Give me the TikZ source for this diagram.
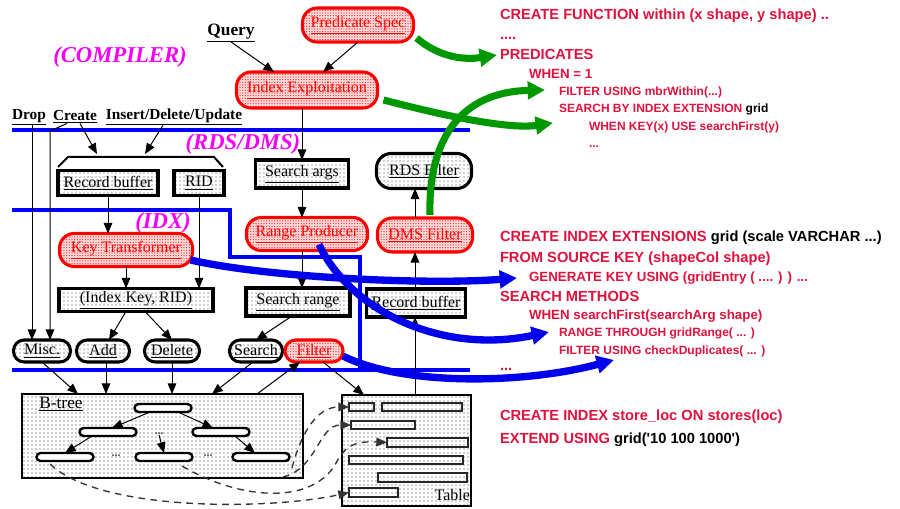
\documentclass[tikz,border=0pt]{standalone}
\usepackage{fontspec}
\setmainfont{Liberation Serif}
\newfontfamily\sqlfont{Liberation Sans}
\usetikzlibrary{arrows.meta,patterns,calc}
\pgfdeclarepatternformonly{bigdots}{\pgfpoint{-1pt}{-1pt}}{\pgfpoint{1pt}{1pt}}{\pgfpoint{3pt}{3pt}}{%
  \pgfpathcircle{\pgfpointorigin}{0.5pt}\pgfusepath{fill}}
\pgfdeclarepatternformonly{densedots}{\pgfpoint{-1pt}{-1pt}}{\pgfpoint{1pt}{1pt}}{\pgfpoint{2pt}{2pt}}{%
  \pgfpathcircle{\pgfpointorigin}{0.5pt}\pgfusepath{fill}}
\definecolor{sqlred}{RGB}{222,18,60}
\definecolor{magL}{RGB}{245,0,245}
\definecolor{sepblue}{RGB}{0,0,250}
\definecolor{bigblue}{RGB}{0,0,235}
\definecolor{biggreen}{RGB}{0,152,0}
\definecolor{nred}{RGB}{255,0,0}
\tikzset{
  every node/.style={inner sep=0pt, outer sep=0pt},
  arr/.style={draw=black, line width=0.75pt, -{Triangle[length=8pt,width=6.5pt]}},
  nfont/.style={font=\fontsize{12}{14}\selectfont},
  redbox/.style={nfont, draw=nred, line width=2.3pt, rounded corners=11pt, preaction={fill=red!14}, pattern=densedots, pattern color=red!85, text=nred},
  blkround/.style={nfont, draw=black, line width=2.3pt, rounded corners=8pt, preaction={fill=white}, pattern=bigdots, pattern color=black!75},
  blkbox/.style={nfont, draw=black, line width=2.3pt, preaction={fill=white}, pattern=bigdots, pattern color=black!75},
  area/.style={draw=black, line width=0.9pt, preaction={fill=white}, pattern=bigdots, pattern color=black!80},
  leaf/.style={draw=black, line width=1.8pt, fill=white, rounded corners=3pt, minimum width=42.75pt, minimum height=6pt},
  rowbox/.style={draw=black!85, line width=1pt, preaction={fill=white}, pattern=bigdots, pattern color=black!70},
  dotsty/.style={font=\fontsize{9}{10}\selectfont\bfseries, text=black!65},
  lbl/.style={font=\fontsize{11.5}{13}\selectfont\bfseries},
  mag/.style={text=magL, font=\fontsize{17}{19}\selectfont\bfseries\itshape},
  sep/.style={draw=sepblue, line width=2.3pt},
  garr/.style={draw=biggreen, line width=5.3pt, -{Triangle[length=13pt,width=13pt]}},
  barr/.style={draw=bigblue, line width=5.5pt, -{Triangle[length=13pt,width=13pt]}},
  dsh/.style={draw=black!80, line width=1pt, dash pattern=on 5pt off 4pt},
  dsharr/.style={dsh, -{Triangle[length=8pt,width=6.5pt]}},
  sqlL/.style={anchor=base west, text=sqlred, font=\sqlfont\bfseries\fontsize{11}{13}\selectfont},
  sqlM/.style={anchor=base west, text=sqlred, font=\sqlfont\bfseries\fontsize{10}{12}\selectfont},
  sqlS/.style={anchor=base west, text=sqlred, font=\sqlfont\bfseries\fontsize{9}{11}\selectfont},
}
\begin{document}
\begin{tikzpicture}[x=0.75pt,y=-0.75pt]
\useasboundingbox (0,0) rectangle (900,509);

% separators
\draw[sep] (12,130) -- (470,130);
\draw[sep] (12,210) -- (230,210) -- (230,257) -- (360,257) -- (360,370);
\draw[sep] (12,370) -- (470,370);

% labels
\node[font=\fontsize{13}{15}\selectfont\bfseries] (query) at (231,33) {\underline{Query}};
\node[mag] (compiler) at (120,57) {(COMPILER)};
\node[lbl] (drop) at (29,117) {\underline{Drop}};
\node[lbl] (create) at (75,117) {\underline{Create}};
\node[lbl] (ins) at (174,117) {\underline{Insert/Delete/Update}};
\node[mag] (rdsdms) at (243,144) {(RDS/DMS)};
\node[mag] (idxlab) at (163,223) {(IDX)};

% main nodes
\node[redbox, minimum width=83.25pt, minimum height=25.5pt] (pred) at (358,25) {\underline{Predicate Spec}};
\node[redbox, minimum width=105.75pt, minimum height=27pt] (idx) at (307,90) {\underline{Index Exploitation}};
\node[blkbox, minimum width=75pt, minimum height=18.75pt] (recbuf) at (108,183) {\underline{Record buffer}};
\node[blkbox, minimum width=37.5pt, minimum height=18.75pt] (rid) at (199,183) {\underline{RID}};
\node[blkbox, minimum width=69.75pt, minimum height=21pt] (sargs) at (302,174) {\underline{Search args}};
\node[blkround, rounded corners=11pt, minimum width=71.25pt, minimum height=26.25pt] (rdsf) at (424,171) {\underline{RDS Filter}};
\node[redbox, minimum width=99.75pt, minimum height=24.75pt] (keyt) at (126,250) {\underline{Key Transformer}};
\node[redbox, minimum width=90.75pt, minimum height=24.75pt] (rangep) at (307,234) {\underline{Range Producer}};
\node[redbox, minimum width=71.25pt, minimum height=25.5pt] (dmsf) at (425,235) {\underline{DMS Filter}};
\node[blkbox, minimum width=115.5pt, minimum height=17.25pt] (ikr) at (136,300) {\underline{(Index Key, RID)}};
\node[blkbox, minimum width=78pt, minimum height=21pt] (srange) at (298,302) {\underline{Search range}};
\node[blkbox, minimum width=74.25pt, minimum height=21pt] (recbuf2) at (416,303) {\underline{Record buffer}};
\node[blkround, minimum width=42.75pt, minimum height=16.5pt] (misc) at (42,351) {\underline{Misc.}};
\node[blkround, minimum width=39.75pt, minimum height=16.5pt] (add) at (103,351) {\underline{Add}};
\node[blkround, minimum width=41.25pt, minimum height=16.5pt] (del) at (172,351) {\underline{Delete}};
\node[blkround, minimum width=39.75pt, minimum height=16.5pt] (search) at (256,351) {\underline{Search}};
\node[redbox, rounded corners=8pt, minimum width=43.5pt, minimum height=16.5pt] (filter) at (314,351) {\underline{Filter}};

% bracket
\draw[line width=1.5pt, line join=round] (58,167) -- (68,157) -- (214,157) -- (223,167);
\coordinate (brA) at (97,154);
\coordinate (brB) at (145,154);
\coordinate (cbend) at (50,131);
\coordinate (dropx) at (32,125);

% connectors upper part
\draw[arr] (query.south) -- ($(idx.north)+(-33,0)$);
\draw[arr] (pred.south) -- ($(idx.north)+(16,0)$);
\draw[arr] (idx.south -| sargs.north) -- (sargs.north);
\draw[arr] (sargs.south) -- (sargs.south |- rangep.north);
\draw[arr] (sargs.south |- rangep.south) -- (sargs.south |- srange.north);
\draw[arr] ($(create.south)+(5,0)$) -- (brA);
\draw[arr] ($(ins.south)+(-11,0)$) -- (brB);
\draw[arr] ($(create.south)+(-8,0)$) -- (cbend) -- (cbend |- misc.north);
\draw[arr] (dropx) -- (dropx |- misc.north);
\draw[arr] (recbuf.south) -- (recbuf.south |- keyt.north);
\draw[arr] (rid.south) -- (rid.south |- ikr.north);
\draw[arr] (keyt.south) -- (keyt.south |- ikr.north);
\draw[arr] ($(ikr.south)+(-10,0)$) -- ($(add.north)+(6,0)$);
\draw[arr] ($(ikr.south)+(9,0)$) -- (del.north);
\draw[arr] ($(srange.south)+(-6,0)$) -- (search.north);

% B-tree and table
\node[area, minimum width=210.75pt, minimum height=63pt] (btree) at (162.5,436) {};
\node[font=\fontsize{13}{15}\selectfont] (btlbl) at (61,404) {\underline{B-tree}};
\node[area, minimum width=96.75pt, minimum height=83.25pt] (table) at (406.5,450.5) {};
\node[font=\fontsize{12}{14}\selectfont, anchor=east] (tbllbl) at (470,495) {Table};

\coordinate (bt_in1) at (78,394);
\coordinate (bt_in2) at (106,394);
\coordinate (bt_in3) at (172,394);
\coordinate (bt_in4) at (212,394);
\coordinate (bt_out) at (257,394);
\coordinate (tb_in) at (364,395);
\coordinate (tb_out) at (415,395);

\draw[arr] (misc.south) -- (bt_in1);
\draw[arr] (bt_in2 |- add.south) -- (bt_in2);
\draw[arr] (bt_in3 |- del.south) -- (bt_in3);
\draw[arr] ($(search.south)+(-3,0)$) -- (bt_in4);
\draw[arr] (bt_out) -- ($(filter.south)+(-14,0)$);
\draw[arr] ($(filter.south)+(9,0)$) -- (tb_in);
\draw[arr] (tb_out) -- (tb_out |- recbuf2.south);
\draw[arr] (tb_out |- recbuf2.north) -- (tb_out |- dmsf.south);
\draw[arr] (tb_out |- dmsf.north) -- (tb_out |- rdsf.south);

% B-tree inner
\node[leaf] (b0) at (163,408) {};
\node[leaf] (b1l) at (108,432) {};
\node[leaf] (b1r) at (221,432) {};
\node[leaf] (b2l) at (65,457) {};
\node[leaf] (b2m) at (164,457) {};
\node[leaf] (b2r) at (261,457) {};
\node[dotsty] (dm) at (159,434) {...};
\node[dotsty] (dl) at (116,456) {...};
\node[dotsty] (dr) at (208,456) {...};
\draw[arr] ($(b0.south)+(-13,0)$) -- ($(b1l.north)+(4,0)$);
\draw[arr] ($(b0.south)+(15,0)$) -- ($(b1r.north)+(-8,0)$);
\draw[arr] ($(b1l.south)+(-16,0)$) -- (b2l.north);
\draw[arr] (dm.south) -- (b2m.north);
\draw[arr] ($(b1r.south)+(14,0)$) -- ($(b2r.north)+(-6,0)$);

% table rows
\node[rowbox, minimum width=18.75pt, minimum height=6pt] (r1) at (361.5,407) {};
\node[rowbox, minimum width=60pt, minimum height=6pt] (r2) at (422,407) {};
\node[rowbox, minimum width=48pt, minimum height=6pt] (r3) at (383,425) {};
\node[rowbox, minimum width=60.75pt, minimum height=6.75pt] (r4) at (427.5,442.5) {};
\node[rowbox, minimum width=85.5pt, minimum height=6pt] (r5) at (406,460) {};
\node[rowbox, minimum width=66.75pt, minimum height=6.75pt] (r6) at (422.5,477.5) {};
\node[rowbox, minimum width=36.75pt, minimum height=6.75pt] (r7) at (373.5,492.5) {};

% dashed pointers
\coordinate (d1s) at (292,468);
\coordinate (d2s) at (283,477);
\coordinate (d3s) at (182,466);
\coordinate (d4s) at (50,464);
\draw[dsharr] (d1s) .. controls (302,430) and (318,407) .. (r1.west);
\draw[dsharr] (d2s) .. controls (318,468) and (318,425) .. (r3.west);
\draw[dsharr] (d3s) .. controls (240,500) and (310,505) .. (335,465) .. controls (345,445) and (355,441) .. (r4.west);
\draw[dsharr] (d4s) .. controls (100,512) and (270,510) .. (r7.west);

% right-hand text
\node[sqlL] (t1) at (500,20) {CREATE FUNCTION within (x shape, y shape) ..};
\node[sqlL] (t2) at (500,40) {....};
\node[sqlL] (t3) at (500,59.5) {PREDICATES};
\node[sqlM] (t4) at (529,78.5) {WHEN = 1};
\node[sqlS] (t5) at (559,96) {FILTER USING mbrWithin(...)};
\node[sqlS] (t6) at (559,113) {SEARCH BY INDEX EXTENSION \textcolor{black}{grid}};
\node[sqlS] (t7) at (589,131) {WHEN KEY(x) USE searchFirst(y)};
\node[sqlS] (t8) at (589,148) {...};

\node[sqlL] (m1) at (500,241.5) {CREATE INDEX EXTENSIONS \textcolor{black}{grid (scale VARCHAR ...)}};
\node[sqlL] (m2) at (500,262.5) {FROM SOURCE KEY (shapeCol shape)};
\node[sqlM] (m3) at (529,282) {GENERATE KEY USING (gridEntry ( .... ) ) ...};
\node[sqlL] (m4) at (500,301.5) {SEARCH METHODS};
\node[sqlM] (m5) at (529,320) {WHEN searchFirst(searchArg shape)};
\node[sqlS] (m6) at (559,336.5) {RANGE THROUGH gridRange( ... )};
\node[sqlS] (m7) at (559,354.5) {FILTER USING checkDuplicates( ... )};
\node[sqlL] (m8) at (500,371) {...};

\node[sqlL] (c1) at (500,420.5) {CREATE INDEX store\_loc ON stores(loc)};
\node[sqlL] (c2) at (500,443.5) {EXTEND USING \textcolor{black}{grid(\textquotesingle 10 100 1000\textquotesingle)}};

% big arrows
\coordinate (g1e) at (497,55);
\coordinate (g2e) at (553,123);
\coordinate (g3e) at (545,90);
\coordinate (b1e) at (517,278);
\coordinate (b2e) at (549,332);
\coordinate (b3e) at (614,360);
\draw[garr] ($(pred.east)+(3,13)$) .. controls (440,58) and (465,60) .. (g1e);
\draw[garr] ($(idx.east)+(6,10)$) .. controls (430,112) and (505,130) .. (g2e);
\draw[garr] ($(dmsf.north)+(5,-3)$) .. controls (428,140) and (460,92) .. (g3e);
\draw[barr] ($(keyt.east)+(-2,10)$) .. controls (270,278) and (430,285) .. (b1e);
\draw[barr] ($(rangep.south)+(12,-6)$) .. controls (350,310) and (440,355) .. (b2e);
\draw[barr] ($(filter.east)+(0,5)$) .. controls (400,385) and (520,385) .. (b3e);
\end{tikzpicture}
\end{document}
